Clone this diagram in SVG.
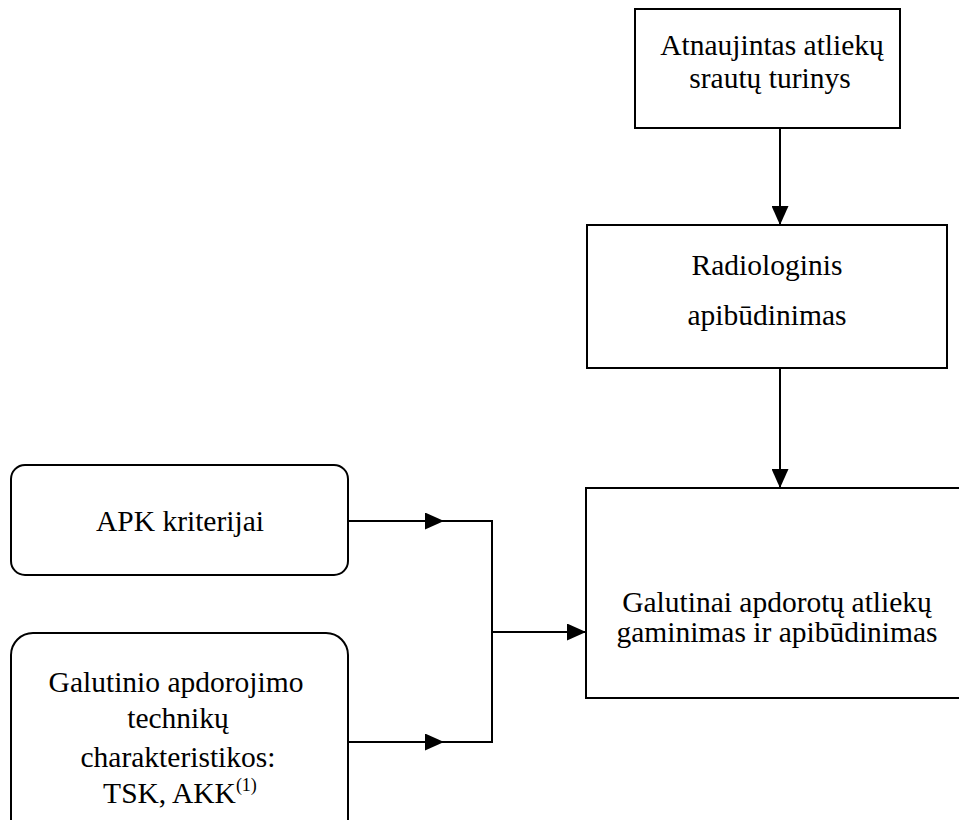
<svg xmlns="http://www.w3.org/2000/svg" width="959" height="820" viewBox="0 0 959 820">
<style>
.box{fill:#fff;stroke:#000;stroke-width:2}
.t{font-size:29.5px;fill:#000;text-anchor:middle}
.c{fill:none;stroke:#000;stroke-width:2}
</style>
<defs>
<marker id="ah" markerWidth="19" markerHeight="17" refX="19" refY="8.5" orient="auto" markerUnits="userSpaceOnUse">
<path d="M0,0 L19,8.5 L0,17 Z" fill="#000"/>
</marker>
</defs>
<rect width="959" height="820" fill="#fff"/>
<g font-family="'Liberation Serif', 'Times New Roman', serif">
<g id="n1">
<rect class="box" x="635" y="9" width="265" height="119"/>
<text class="t" x="772" y="55">Atnaujintas atliekų</text>
<text class="t" x="770" y="88">srautų turinys</text>
</g>
<g id="n2">
<rect class="box" x="587" y="225" width="360" height="143"/>
<text class="t" x="767" y="275">Radiologinis</text>
<text class="t" x="767" y="325">apibūdinimas</text>
</g>
<g id="n3">
<rect class="box" x="586" y="488" width="390" height="210"/>
<text class="t" x="777" y="612">Galutinai apdorotų atliekų</text>
<text class="t" x="777" y="642">gaminimas ir apibūdinimas</text>
</g>
<g id="n4">
<rect class="box" x="11" y="465" width="337" height="110" rx="14"/>
<text class="t" x="180" y="531">APK kriterijai</text>
</g>
<g id="n5">
<rect class="box" x="11" y="633" width="337" height="220" rx="22"/>
<text class="t" x="176" y="692">Galutinio apdorojimo</text>
<text class="t" x="178" y="728">technikų</text>
<text class="t" x="178" y="767">charakteristikos:</text>
<text class="t" x="180" y="803">TSK, AKK<tspan dy="-12" font-size="18">(1)</tspan></text>
</g>
</g>
<g id="connectors">
<path class="c" d="M780,128 V225" marker-end="url(#ah)"/>
<path class="c" d="M780,368 V488" marker-end="url(#ah)"/>
<path class="c" d="M348,521 H444" marker-end="url(#ah)"/>
<path class="c" d="M348,742 H444" marker-end="url(#ah)"/>
<path class="c" d="M444,521 H492 V742 H444"/>
<path class="c" d="M492,632 H586" marker-end="url(#ah)"/>
</g>
</svg>
